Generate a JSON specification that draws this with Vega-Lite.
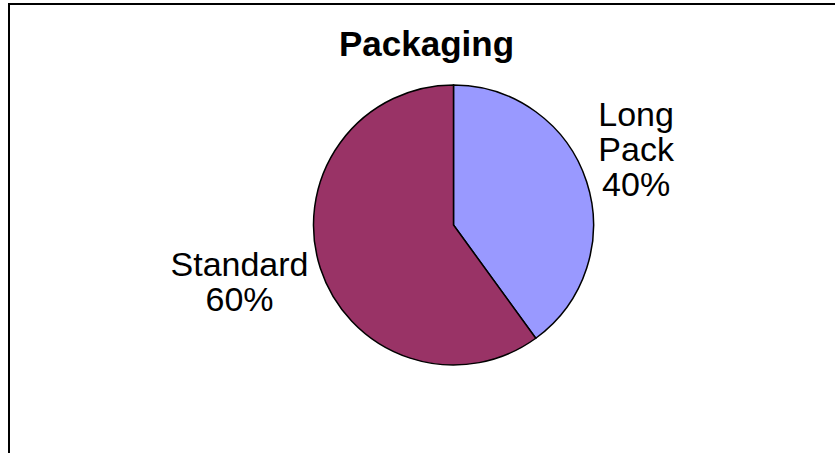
{
  "$schema": "https://vega.github.io/schema/vega-lite/v6.json",
  "autosize": "none",
  "width": 889,
  "height": 500,
  "padding": {"left": 9, "top": 4, "right": 0, "bottom": 0},
  "background": "white",
  "view": {"stroke": "black", "strokeWidth": 2, "fill": "white"},
  "config": {
    "font": "Liberation Sans"
  },
  "title": {
    "text": "Packaging",
    "font": "Liberation Sans",
    "fontSize": 35,
    "fontWeight": "bold",
    "color": "black",
    "anchor": "middle",
    "baseline": "alphabetic",
    "offset": -53,
    "dy": 34,
    "dx": -27
  },
  "data": {
    "values": [
      {"type": "Long Pack", "share": 40, "label": "Long Pack 40%"},
      {"type": "Standard", "share": 60, "label": "Standard 60%"}
    ]
  },
  "encoding": {
    "theta": {"field": "share", "type": "quantitative", "stack": true},
    "order": {"field": "type", "sort": "ascending"}
  },
  "layer": [
    {
      "mark": {"type": "arc", "outerRadius": 140, "stroke": "black", "strokeWidth": 1.5, "yOffset": -29},
      "encoding": {
        "color": {
          "field": "type",
          "type": "nominal",
          "scale": {"domain": ["Long Pack", "Standard"], "range": ["#9999FF", "#993366"]},
          "legend": null
        }
      }
    },
    {
      "mark": {"type": "text", "radius": 192, "fontSize": 34, "lineBreak": " ", "lineHeight": 35, "yOffset": -79, "align": "center", "baseline": "middle", "color": "black"},
      "encoding": {
        "detail": {"field": "type"},
        "text": {"condition": {"test": "datum.type === 'Long Pack'", "field": "label"}, "value": ""}
      }
    },
    {
      "mark": {"type": "text", "radius": 225, "fontSize": 34, "lineBreak": " ", "lineHeight": 35, "yOffset": -58, "align": "center", "baseline": "middle", "color": "black"},
      "encoding": {
        "detail": {"field": "type"},
        "text": {"condition": {"test": "datum.type === 'Standard'", "field": "label"}, "value": ""}
      }
    }
  ]
}
